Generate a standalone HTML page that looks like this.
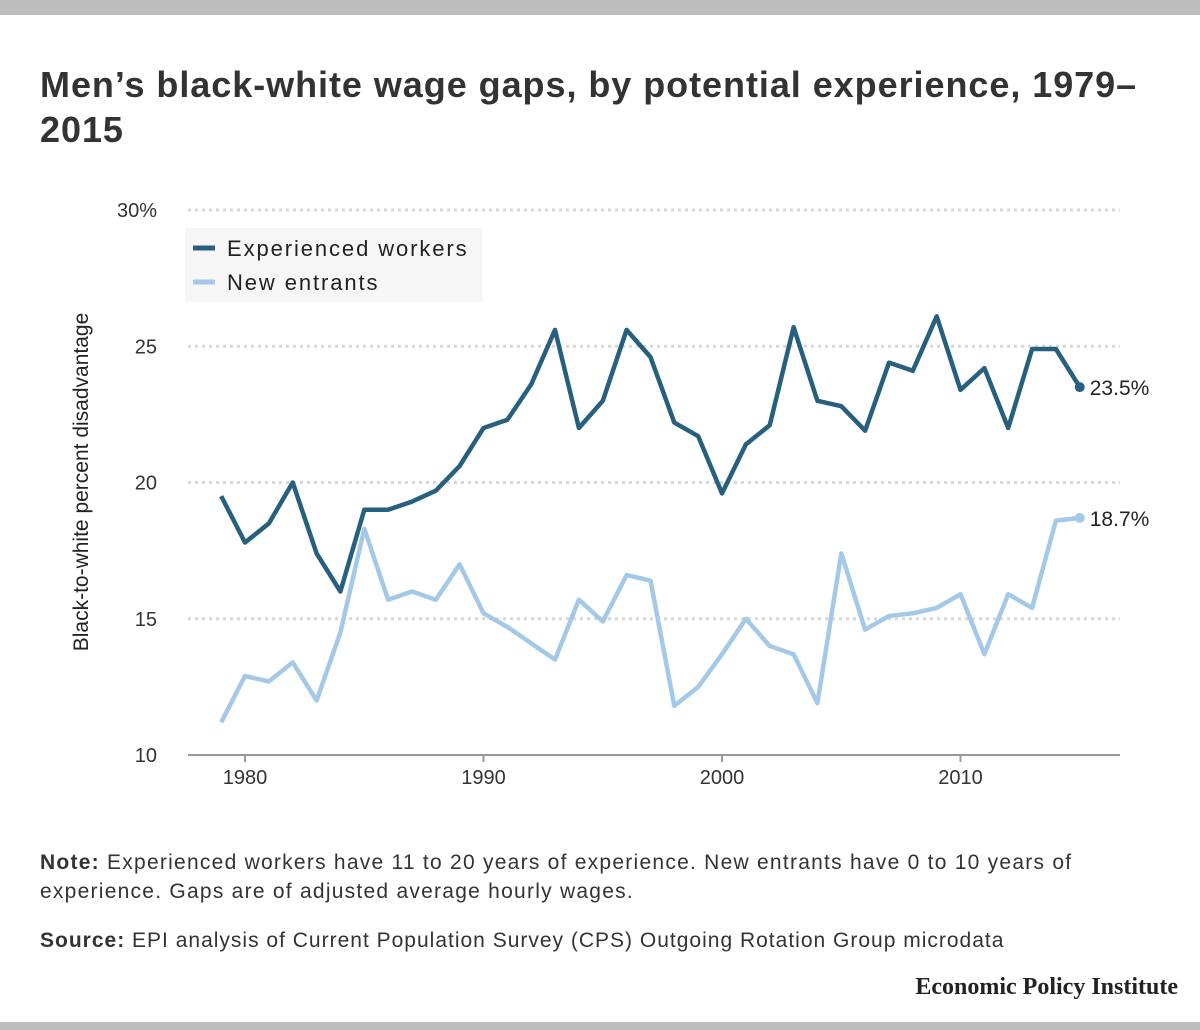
<!DOCTYPE html>
<html><head><meta charset="utf-8"><style>
body{margin:0;width:1200px;height:1030px;background:#fff;font-family:"Liberation Sans",sans-serif;position:relative;overflow:hidden;color:#222}
.bar{position:absolute;left:0;width:1200px;background:#bdbdbd}
h1{position:absolute;left:40px;top:62px;margin:0;font-size:36px;line-height:45px;font-weight:bold;color:#333;width:1150px;letter-spacing:0.95px;white-space:nowrap}
.note{position:absolute;left:40px;font-size:21px;line-height:29px;color:#333;width:1150px;letter-spacing:1.25px;white-space:nowrap}
</style></head><body>
<div class="bar" style="top:0;height:15px"></div>
<div class="bar" style="top:1022px;height:8px"></div>
<h1>Men’s black-white wage gaps, by potential experience, 1979–<br>2015</h1>
<svg id="chart" width="1200" height="800" style="position:absolute;left:0;top:0"></svg>
<div class="note" style="top:848px"><b>Note:</b> Experienced workers have 11 to 20 years of experience. New entrants have 0 to 10 years of<br>experience. Gaps are of adjusted average hourly wages.</div>
<div class="note" style="top:926px;letter-spacing:1px"><b>Source:</b> EPI analysis of Current Population Survey (CPS) Outgoing Rotation Group microdata</div>
<div style="position:absolute;right:22px;top:974px;font-family:'Liberation Serif',serif;font-weight:bold;font-size:24px;color:#222">Economic Policy Institute</div>
<script>
const years=[];for(let y=1979;y<=2015;y++)years.push(y);
const experienced=[19.5,17.8,18.5,20.0,17.4,16.0,19.0,19.0,19.3,19.7,20.6,22.0,22.3,23.6,25.6,22.0,23.0,25.6,24.6,22.2,21.7,19.6,21.4,22.1,25.7,23.0,22.8,21.9,24.4,24.1,26.1,23.4,24.2,22.0,24.9,24.9,23.5];
const newEntrants=[11.2,12.9,12.7,13.4,12.0,14.5,18.3,15.7,16.0,15.7,17.0,15.2,14.7,14.1,13.5,15.7,14.9,16.6,16.4,11.8,12.5,13.7,15.0,14.0,13.7,11.9,17.4,14.6,15.1,15.2,15.4,15.9,13.7,15.9,15.4,18.6,18.7];
const yTicks=[10,15,20,25,30];
const yTickLabels=["10","15","20","25","30%"];
const xTicks=[1980,1990,2000,2010];
const NS="http://www.w3.org/2000/svg";
const svg=document.getElementById('chart');
const xs=v=>245+(v-1980)*23.85;
const ys=v=>755-(v-10)*27.25;
function mk(t,a,name,par){const e=document.createElementNS(NS,t);for(const k in a)e.setAttribute(k,a[k]);


(par||svg).appendChild(e);return e;}
yTicks.forEach((v,i)=>{
 if(v>10)mk('line',{x1:188,x2:1120,y1:ys(v),y2:ys(v),stroke:'#d8d8d8','stroke-width':3,'stroke-dasharray':'3,4'},'gridline-'+v);
 const t=mk('text',{x:157,y:ys(v)+7,'text-anchor':'end','font-size':20,fill:'#333'},'y-tick-'+v);t.textContent=yTickLabels[i];
});
mk('line',{x1:188,x2:1120,y1:755,y2:755,stroke:'#999','stroke-width':2},'x-axis');
xTicks.forEach(v=>{
 mk('line',{x1:xs(v),x2:xs(v),y1:755,y2:762,stroke:'#999','stroke-width':2},'x-tick-mark-'+v);
 const t=mk('text',{x:xs(v),y:784,'text-anchor':'middle','font-size':20,fill:'#333'},'x-tick-'+v);t.textContent=v;
});
const yt=mk('text',{x:0,y:0,transform:'translate(88,482) rotate(-90)','text-anchor':'middle','font-size':21,fill:'#222'},'y-axis-title');yt.textContent='Black-to-white percent disadvantage';
function series(d,c,name,lbl){
 const p=d.map((v,i)=>(i?'L':'M')+xs(years[i]).toFixed(1)+','+ys(v).toFixed(1)).join('');
 mk('path',{d:p,fill:'none',stroke:c,'stroke-width':4.5,'stroke-linejoin':'round'},name+'-line');
 const last=d.length-1;
 mk('circle',{cx:xs(years[last]),cy:ys(d[last]),r:5,fill:c},name+'-end-point');
 const t=mk('text',{x:xs(years[last])+10,y:ys(d[last])+8,'font-size':21,fill:'#222'},name+'-end-label');t.textContent=lbl;
}
series(newEntrants,'#a4c9e8','new-entrants','18.7%');
series(experienced,'#27607f','experienced','23.5%');
const lg=mk('g',{},'legend');
mk('rect',{x:185,y:228,width:297,height:74,fill:'#f6f6f6'},'legend-background',lg);
mk('line',{x1:193,x2:215,y1:248,y2:248,stroke:'#27607f','stroke-width':5},'legend-swatch-experienced',lg);
let t=mk('text',{x:227,y:256,'font-size':22,fill:'#222','letter-spacing':1.9},'legend-entry-experienced',lg);t.textContent='Experienced workers';
mk('line',{x1:193,x2:215,y1:282,y2:282,stroke:'#a4c9e8','stroke-width':5},'legend-swatch-new-entrants',lg);
t=mk('text',{x:227,y:290,'font-size':22,fill:'#222','letter-spacing':1.9},'legend-entry-new-entrants',lg);t.textContent='New entrants';
</script>
</body></html>
